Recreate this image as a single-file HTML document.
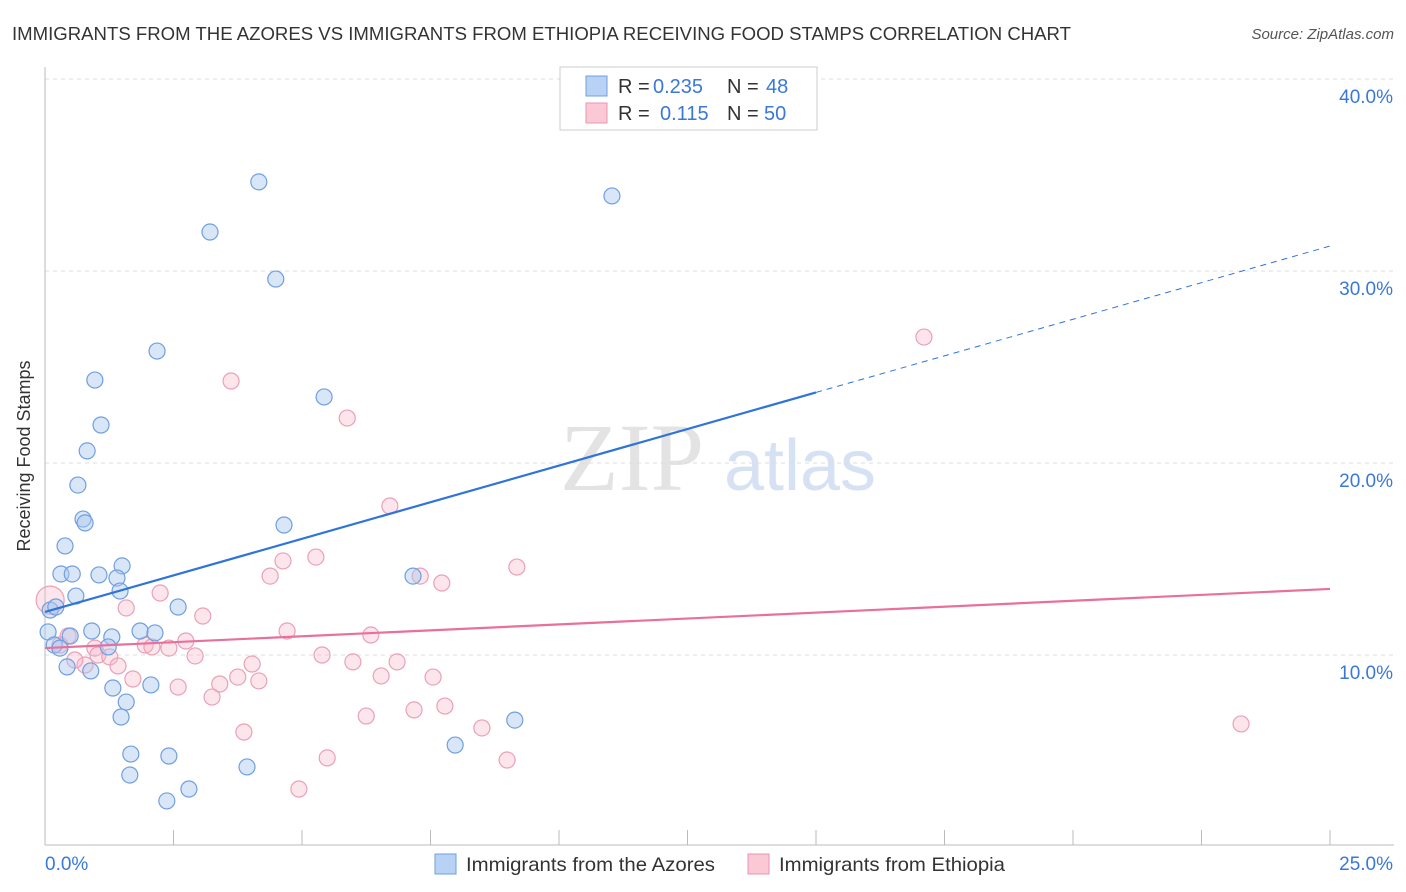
<!DOCTYPE html>
<html><head><meta charset="utf-8"><style>
body{margin:0;background:#fff;font-family:"Liberation Sans",sans-serif}
svg{display:block}
</style></head><body>
<svg id="chart" width="1406" height="892" viewBox="0 0 1406 892">
<text x="12" y="40" font-size="18" fill="#333" textLength="1059" lengthAdjust="spacingAndGlyphs">IMMIGRANTS FROM THE AZORES VS IMMIGRANTS FROM ETHIOPIA RECEIVING FOOD STAMPS CORRELATION CHART</text>
<text x="1394" y="39" font-size="15" fill="#555" font-style="italic" text-anchor="end">Source: ZipAtlas.com</text>
<text x="30" y="456" font-size="18" fill="#333" text-anchor="middle" transform="rotate(-90 30 456)">Receiving Food Stamps</text>
<g>
<text x="632" y="490" font-size="96" fill="#d8d8d8" font-family="Liberation Serif,serif" text-anchor="middle" opacity="0.7">ZIP</text>
<text x="800" y="490" font-size="72" fill="#c5d6ee" text-anchor="middle" opacity="0.7">atlas</text>
</g>
<g id="grid"></g>
<g id="axes"></g>
<g id="marks"></g>
<g>
<rect x="560" y="67" width="257" height="63" fill="#fff" stroke="#ccc"/>
<rect x="586" y="76" width="21" height="20" fill="#b8d2f5" stroke="#6f9fe0"/>
<rect x="586" y="103" width="21" height="20" fill="#fbc8d6" stroke="#e994b0"/>
<text x="618" y="93" font-size="20" fill="#333">R = <tspan fill="#3a78d8" x="653">0.235</tspan><tspan x="727">N = </tspan><tspan fill="#3a78d8" x="766">48</tspan></text>
<text x="618" y="120" font-size="20" fill="#333">R = <tspan fill="#3a78d8" x="660">0.115</tspan><tspan x="727">N = </tspan><tspan fill="#3a78d8" x="764">50</tspan></text>
</g>
<g>
<rect x="435" y="854" width="21" height="20" fill="#b8d2f5" stroke="#6f9fe0"/>
<text x="466" y="871" font-size="19.5" fill="#333" textLength="249" lengthAdjust="spacingAndGlyphs">Immigrants from the Azores</text>
<rect x="748" y="854" width="21" height="20" fill="#fbc8d6" stroke="#e994b0"/>
<text x="779" y="871" font-size="19.5" fill="#333" textLength="226" lengthAdjust="spacingAndGlyphs">Immigrants from Ethiopia</text>
</g>
</svg>
<script>
const blueX=[4.16,11.03,3.21,4.49,2.18,0.97,5.43,1.09,0.82,0.64,0.74,0.78,4.65,0.39,1.50,0.31,0.53,1.05,1.40,7.16,1.46,0.60,2.59,0.10,0.21,0.06,0.91,1.85,2.14,1.30,0.49,0.18,0.29,1.23,0.43,0.89,2.06,1.32,1.58,1.48,9.14,7.98,1.67,2.41,3.93,1.65,2.80,2.37];
const blueY=[34.64,33.91,32.03,29.58,25.83,24.32,23.44,21.98,20.63,18.85,17.08,16.88,16.77,15.68,14.64,14.22,14.22,14.17,14.01,14.11,13.33,13.07,12.50,12.34,12.50,11.20,11.25,11.25,11.15,10.94,10.99,10.52,10.36,10.42,9.38,9.17,8.44,8.28,7.55,6.77,6.61,5.31,4.84,4.74,4.17,3.75,3.02,2.40];
const pinkX=[17.10,3.62,5.88,6.71,5.27,4.63,9.18,4.38,7.30,7.72,2.24,1.58,3.07,4.71,6.34,2.74,1.95,2.08,2.41,0.97,0.45,1.03,1.26,2.92,5.39,5.99,6.85,1.42,0.78,4.03,1.71,3.75,4.16,6.54,7.55,2.59,3.40,3.25,7.78,7.18,6.25,23.27,8.50,3.87,5.49,8.99,4.94,0.10,0.58,0.29];
const pinkY=[26.56,24.27,22.34,17.76,15.10,14.90,14.58,14.11,14.11,13.75,13.23,12.45,12.03,11.25,11.04,10.73,10.52,10.42,10.36,10.36,10.99,10.00,9.90,9.95,10.00,9.64,9.64,9.43,9.48,9.53,8.75,8.85,8.65,8.91,8.85,8.33,8.49,7.81,7.34,7.14,6.82,6.41,6.20,5.99,4.64,4.53,3.02,12.86,9.74,10.52];
const yTicks=[10,20,30,40];
const xTickLabels=["0.0%","25.0%"];
const blueTrend=[12.24,31.30];
const pinkTrend=[10.36,13.44];
const blueSolidEnd=15.0;

const X=v=>45+v*1285/25;
const Y=v=>847-v*19.2;
const NS="http://www.w3.org/2000/svg";
function mk(tag,parent,attrs){const e=document.createElementNS(NS,tag);for(const k in attrs)e.setAttribute(k,attrs[k]);parent.appendChild(e);return e;}
const grid=document.getElementById('grid'),axes=document.getElementById('axes'),marks=document.getElementById('marks');
yTicks.forEach(t=>{
 const l=mk('line',grid,{x1:45,x2:1394,y1:Y(t),y2:Y(t),stroke:'#ddd','stroke-dasharray':'4,4'});
 
 
 const tx=mk('text',axes,{x:1393,y:Y(t)+24,'font-size':19,fill:'#3a78d8','text-anchor':'end'});
 tx.textContent=t.toFixed(1)+'%';
 
 
});
const ax=mk('line',axes,{x1:45,x2:1394,y1:845,y2:845,stroke:'#bbb'});


const ay=mk('line',axes,{x1:45,x2:45,y1:67,y2:845,stroke:'#bbb'});


for(let i=0;i<=10;i++){
 const t=mk('line',axes,{x1:X(i*2.5),x2:X(i*2.5),y1:830,y2:845,stroke:'#bbb'});
 
 
}
[[0,'start',45],[25,'end',1393]].forEach((d,i)=>{
 const t=mk('text',axes,{x:d[2],y:870,'font-size':19,fill:'#3a78d8','text-anchor':d[1]});
 t.textContent=xTickLabels[i];
 
 
});
pinkX.forEach((x,i)=>{
 const c=mk('circle',marks,{cx:X(x),cy:Y(pinkY[i]),r:i==47?14:8,fill:'rgba(248,180,200,0.35)',stroke:'#eaa0b8','stroke-width':1.2});
 
 
});
blueX.forEach((x,i)=>{
 const c=mk('circle',marks,{cx:X(x),cy:Y(blueY[i]),r:8,fill:'rgba(170,200,240,0.45)',stroke:'#6f9fe0','stroke-width':1.2});
 
 
});
const by=v=>blueTrend[0]+(blueTrend[1]-blueTrend[0])*v/25;
const b1=mk('line',marks,{x1:X(0),y1:Y(by(0)),x2:X(blueSolidEnd),y2:Y(by(blueSolidEnd)),stroke:'#2f74d8','stroke-width':2.2});


const b2=mk('line',marks,{x1:X(blueSolidEnd),y1:Y(by(blueSolidEnd)),x2:X(25),y2:Y(by(25)),stroke:'#2f74d8','stroke-width':1,'stroke-dasharray':'6,5'});


const p1=mk('line',marks,{x1:X(0),y1:Y(pinkTrend[0]),x2:X(25),y2:Y(pinkTrend[1]),stroke:'#e8709a','stroke-width':2.2});


</script>
</body></html>
